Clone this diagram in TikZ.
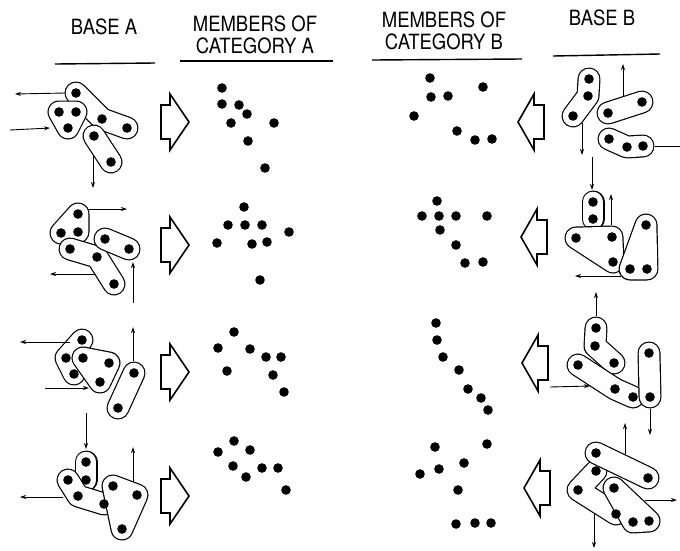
\documentclass[tikz,border=0pt]{standalone}
\usepackage{fontspec}
\setmainfont{TeX Gyre Heros}[FakeStretch=0.88]
\usetikzlibrary{arrows.meta}
\newcommand\sausage[1]{%
 \draw[line width=23pt, line cap=round, line join=round] #1;
 \draw[white, line width=20.6pt, line cap=round, line join=round] #1;}
\newcommand\blob[1]{%
 \filldraw[line width=23pt, line join=round] #1 -- cycle;
 \filldraw[white, line width=20.6pt, line join=round] #1 -- cycle;}
\newcommand\rarr[1]{\draw[blk] (161,#1-17) -- (170,#1-17) -- (170,#1-28) -- (189,#1) -- (170,#1+28) -- (170,#1+17) -- (161,#1+17) -- cycle;}
\newcommand\larr[2]{\draw[blk] (#1,#2) -- (#1+16,#2-28) -- (#1+16,#2-17) -- (#1+26,#2-17) -- (#1+26,#2+17) -- (#1+16,#2+17) -- (#1+16,#2+28) -- cycle;}
\newcommand\pts[1]{\foreach \p in {#1} \fill \p circle (4.8pt);}
\begin{document}
\begin{tikzpicture}[x=1pt,y=-1pt,
  lbl/.style={font=\fontsize{21}{21.5}\selectfont, align=center, inner sep=0pt},
  rule/.style={line width=1.4pt},
  conn/.style={line width=0.9pt, -{Stealth[length=6pt,width=4pt]}},
  blk/.style={line width=1.6pt, line join=miter}]
\useasboundingbox (0,0) rectangle (680,550);
% headers
\node[lbl] (hA) at (104,27) {BASE A};
\node[lbl] (hCA) at (255,35) {MEMBERS OF\\CATEGORY A};
\node[lbl] (hCB) at (444,31) {MEMBERS OF\\CATEGORY B};
\node[lbl] (hB) at (602,18) {BASE B};
\draw[rule] (55,64) -- (155,63);
\draw[rule] (180,61) -- (333,61);
\draw[rule] (372,60) -- (522,59);
\draw[rule] (553,56) -- (660,54);
% block arrows
\rarr{122} \rarr{245} \rarr{372} \rarr{496}
\larr{518}{122} \larr{521}{237} \larr{522}{363} \larr{524}{488}
% ---------- BASE A ----------
% row 1
\sausage{(76,93) -- (102,119) -- (127,128)}
\blob{(59,112) -- (76,112) -- (68,128)}
\sausage{(94,136) -- (111,162)}
\pts{(76,93),(59,112),(76,112),(68,128),(102,119),(127,128),(94,136),(111,162)}
\draw[conn] (65,93) -- (15,94);
\draw[conn] (10,130) -- (50,128);
\draw[conn] (93,155) -- (93,188);
% row 2
\blob{(78,214) -- (61,233) -- (78,232)}
\sausage{(70,249) -- (97,257) -- (114,284)}
\sausage{(105,239) -- (129,249)}
\pts{(78,214),(61,233),(78,232),(70,249),(97,257),(114,284),(105,239),(129,249)}
\draw[conn] (88,209) -- (127,209);
\draw[conn] (95,274) -- (50,274);
\draw[conn] (133,303) -- (133,262);
% row 3
\sausage{(82,340) -- (66,358) -- (74,374)}
\blob{(83,358) -- (109,363) -- (100,382)}
\sausage{(134,373) -- (118,408)}
\pts{(82,340),(66,358),(83,358),(74,374),(109,363),(100,382),(134,373),(118,408)}
\draw[conn] (70,342) -- (20,342);
\draw[conn] (45,388) -- (89,388);
\draw[conn] (133,361) -- (133,327);
% row 4
\sausage{(86,462) -- (86,480)}
\sausage{(68,480) -- (78,496) -- (104,504)}
\blob{(113,486) -- (137,495) -- (122,529)}
\pts{(86,462),(86,480),(68,480),(78,496),(104,504),(113,486),(137,495),(122,529)}
\draw[conn] (86,413) -- (86,449);
\draw[conn] (63,497) -- (20,497);
\draw[conn] (133,482) -- (133,447);
% ---------- CATEGORY A ----------
\pts{(222,88),(222,104),(239,105),(247,114),(231,123),(274,123),(248,141),(265,168)}
\pts{(244,207),(228,225),(245,225),(262,225),(289,232),(217,243),(252,244),(267,242),(260,280)}
\pts{(234,332),(218,348),(250,349),(266,357),(281,357),(227,371),(273,375),(284,392)}
\pts{(234,441),(218,452),(250,450),(233,466),(262,468),(278,468),(246,477),(286,490)}
% ---------- CATEGORY B ----------
\pts{(430,78),(431,97),(448,96),(483,87),(414,116),(457,131),(475,140),(492,139)}
\pts{(437,201),(422,216),(439,216),(456,216),(487,216),(440,230),(456,245),(465,263),(483,262)}
\pts{(436,323),(437,340),(443,357),(459,370),(468,389),(481,398),(488,410)}
\pts{(435,447),(487,444),(464,463),(420,474),(439,469),(458,490),(456,524),(475,523),(491,523)}
% ---------- BASE B ----------
% row 1
\sausage{(589,79) -- (588,96) -- (573,116)}
\sausage{(608,113) -- (642,102)}
\sausage{(609,139) -- (627,147) -- (643,146)}
\pts{(589,79),(588,96),(573,116),(608,113),(642,102),(609,139),(627,147),(643,146)}
\draw[conn] (623,96) -- (623,64);
\draw[conn] (582,123) -- (582,155);
\draw[line width=0.9pt] (655,146) -- (680,146);
\draw[conn] (592,157) -- (592,190);
% row 2
\sausage{(593,202) -- (593,219)}
\blob{(576,238) -- (612,237) -- (613,262)}
\blob{(646,225) -- (630,269) -- (647,269)}
\pts{(593,202),(593,219),(576,238),(612,237),(613,262),(646,225),(630,269),(647,269)}
\draw[conn] (611,225) -- (611,194);
\draw[conn] (621,276) -- (575,276);
% row 3
\sausage{(596,328) -- (595,346) -- (614,363)}
\sausage{(578,365) -- (615,389) -- (633,397)}
\sausage{(649,353) -- (650,397)}
\pts{(596,328),(595,346),(614,363),(578,365),(615,389),(633,397),(649,353),(650,397)}
\draw[conn] (596,316) -- (596,292);
\draw[conn] (550,387) -- (590,386);
\draw[conn] (650,409) -- (650,435);
% row 4
\sausage{(596,471) -- (578,490) -- (616,514)}
\blob{(614,488) -- (633,522) -- (649,521)}
\sausage{(596,453) -- (648,478)}
\pts{(596,453),(596,471),(578,490),(614,488),(616,514),(633,522),(649,521),(648,478)}
\draw[conn] (625,454) -- (625,423);
\draw[conn] (645,500) -- (677,500);
\draw[conn] (594,514) -- (594,548);
\end{tikzpicture}
\end{document}
